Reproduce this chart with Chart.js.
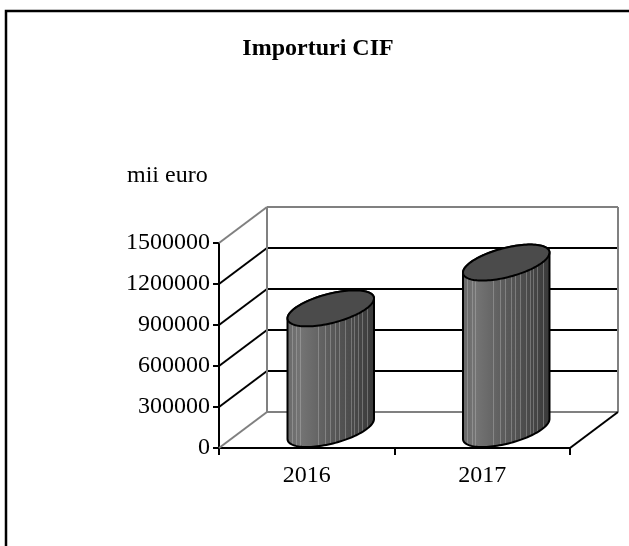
<!DOCTYPE html>
<html>
<head>
<meta charset="utf-8">
<script src="https://cdn.jsdelivr.net/npm/chart.js@4/dist/chart.umd.min.js"></script>
<style>
  html, body { margin: 0; padding: 0; background: #ffffff; }
  canvas { display: block; }
</style>
</head>
<body>
<canvas id="c" width="629" height="546"></canvas>
<script>
// ---- data ----
const categories = ['2016', '2017'];
const importValues = [890000, 1225000];
const yTickValues = [0, 300000, 600000, 900000, 1200000, 1500000];
const chartTitle = 'Importuri CIF';
const unitLabel = 'mii euro';

// ---- style constants ----
const FONT = '"Liberation Serif", "Times New Roman", serif';
const DEPTH_X = 48, DEPTH_Y = -36;
const STRIPES = [0.05, 0.1, 0.14, 0.35, 0.43, 0.49, 0.55, 0.6, 0.66, 0.73, 0.77, 0.81, 0.86, 0.92];

function line(ctx, x1, y1, x2, y2, color, w) {
  ctx.beginPath();
  ctx.moveTo(x1, y1); ctx.lineTo(x2, y2);
  ctx.strokeStyle = color; ctx.lineWidth = w; ctx.stroke();
}

function drawCylinder(ctx, cx, yTop, yBase, a, b, c) {
  const P = (t, cy) => [cx + a * Math.cos(t) + b * Math.sin(t), cy + c * Math.sin(t)];
  const t0 = Math.atan2(b, a);
  const N = 60;
  const body = new Path2D();
  let p = P(t0 + Math.PI, yTop); body.moveTo(p[0], p[1]);
  p = P(t0 + Math.PI, yBase); body.lineTo(p[0], p[1]);
  for (let i = 0; i <= N; i++) { p = P(t0 + Math.PI + Math.PI * i / N, yBase); body.lineTo(p[0], p[1]); }
  for (let i = 0; i <= N; i++) { p = P(t0 + Math.PI * i / N, yTop); body.lineTo(p[0], p[1]); }
  body.closePath();
  const half = Math.sqrt(a * a + b * b);
  const xl = cx - half, xr = cx + half;
  const g = ctx.createLinearGradient(xl, 0, xr, 0);
  g.addColorStop(0, '#6a6a6a');
  g.addColorStop(0.15, '#747474');
  g.addColorStop(0.5, '#5a5a5a');
  g.addColorStop(1, '#3a3a3a');
  ctx.save();
  ctx.fillStyle = g; ctx.fill(body);
  ctx.clip(body);
  ctx.strokeStyle = 'rgba(200,200,200,0.35)'; ctx.lineWidth = 1;
  STRIPES.forEach(f => {
    const x = Math.round(xl + f * (xr - xl)) + 0.5;
    ctx.beginPath(); ctx.moveTo(x, yTop - 40); ctx.lineTo(x, yBase + 40); ctx.stroke();
  });
  ctx.restore();
  ctx.strokeStyle = '#000'; ctx.lineWidth = 2; ctx.lineJoin = 'round';
  ctx.stroke(body);
  const top = new Path2D();
  for (let i = 0; i <= N * 2; i++) {
    p = P(Math.PI * i / N, yTop);
    if (i === 0) top.moveTo(p[0], p[1]); else top.lineTo(p[0], p[1]);
  }
  top.closePath();
  ctx.fillStyle = '#4b4b4b'; ctx.fill(top);
  ctx.stroke(top);
}

const threeD = {
  id: 'threeD',
  beforeDraw(chart) {
    const ctx = chart.ctx;
    ctx.save();
    ctx.fillStyle = '#fff';
    ctx.fillRect(0, 0, chart.width, chart.height);
    ctx.restore();
  },
  beforeDatasetsDraw(chart) {
    const ctx = chart.ctx;
    const { left, right, top, bottom } = chart.chartArea;
    const ys = chart.scales.y;
    ctx.save();
    const grey = '#808080';
    const yMin = ys.getPixelForValue(yTickValues[0]);
    const yMax = ys.getPixelForValue(yTickValues[yTickValues.length - 1]);
    // back gridlines and side diagonals
    yTickValues.forEach((v, i) => {
      const y = ys.getPixelForValue(v);
      const edge = (i === 0 || i === yTickValues.length - 1);
      const col = edge ? grey : '#000';
      line(ctx, left + DEPTH_X, y + DEPTH_Y, right + DEPTH_X, y + DEPTH_Y, col, 2);
      line(ctx, left, y, left + DEPTH_X, y + DEPTH_Y, col, 2);
    });
    // wall vertical edges
    line(ctx, left + DEPTH_X, yMax + DEPTH_Y, left + DEPTH_X, yMin + DEPTH_Y, grey, 2);
    line(ctx, right + DEPTH_X, yMax + DEPTH_Y, right + DEPTH_X, yMin + DEPTH_Y, grey, 2);
    // floor right edge
    line(ctx, right, yMin, right + DEPTH_X, yMin + DEPTH_Y, '#000', 2);
    ctx.restore();
  },
  afterDatasetsDraw(chart) {
    const ctx = chart.ctx;
    const meta = chart.getDatasetMeta(0);
    ctx.save();
    meta.data.forEach(bar => {
      const a = bar.width / 2;
      drawCylinder(ctx, bar.x + DEPTH_X / 2, bar.y + DEPTH_Y / 2, bar.base + DEPTH_Y / 2, a, DEPTH_X / 2, DEPTH_Y / 2);
    });
    ctx.restore();
  },
  afterDraw(chart) {
    const ctx = chart.ctx;
    ctx.save();
    // frame
    ctx.beginPath();
    ctx.moveTo(6, chart.height); ctx.lineTo(6, 11); ctx.lineTo(chart.width, 11);
    ctx.strokeStyle = '#000'; ctx.lineWidth = 2.5; ctx.stroke();
    ctx.fillStyle = '#000';
    ctx.font = 'bold 24px ' + FONT;
    ctx.textAlign = 'center'; ctx.textBaseline = 'alphabetic';
    ctx.fillText(chartTitle, 318, 55);
    ctx.font = '24px ' + FONT;
    ctx.textAlign = 'left';
    ctx.fillText(unitLabel, 127, 182);
    ctx.restore();
  }
};

new Chart(document.getElementById('c'), {
  type: 'bar',
  data: {
    labels: categories,
    datasets: [{
      data: importValues,
      backgroundColor: 'rgba(0,0,0,0)',
      borderWidth: 0,
      barPercentage: 0.41,
      categoryPercentage: 1
    }]
  },
  options: {
    responsive: false,
    animation: false,
    devicePixelRatio: 1,
    layout: { padding: { left: 0, top: 243, right: 59, bottom: 0 } },
    plugins: { legend: { display: false }, title: { display: false }, tooltip: { enabled: false } },
    scales: {
      x: {
        offset: true,
        afterFit(s) { s.height = 98; },
        grid: { offset: true, drawOnChartArea: false, drawTicks: true, tickLength: 7, color: '#000', lineWidth: 2 },
        border: { display: true, color: '#000', width: 2 },
        ticks: { color: '#000', font: { family: FONT, size: 24 }, padding: 6 }
      },
      y: {
        min: 0,
        max: 1500000,
        afterFit(s) { s.width = 219; },
        afterBuildTicks(s) { s.ticks = yTickValues.map(v => ({ value: v })); },
        grid: { drawOnChartArea: false, drawTicks: true, tickLength: 6, color: '#000', lineWidth: 2 },
        border: { display: true, color: '#000', width: 2 },
        ticks: { color: '#000', font: { family: FONT, size: 24 }, padding: 3, callback: v => String(v) }
      }
    }
  },
  plugins: [threeD]
});
</script>
</body>
</html>
